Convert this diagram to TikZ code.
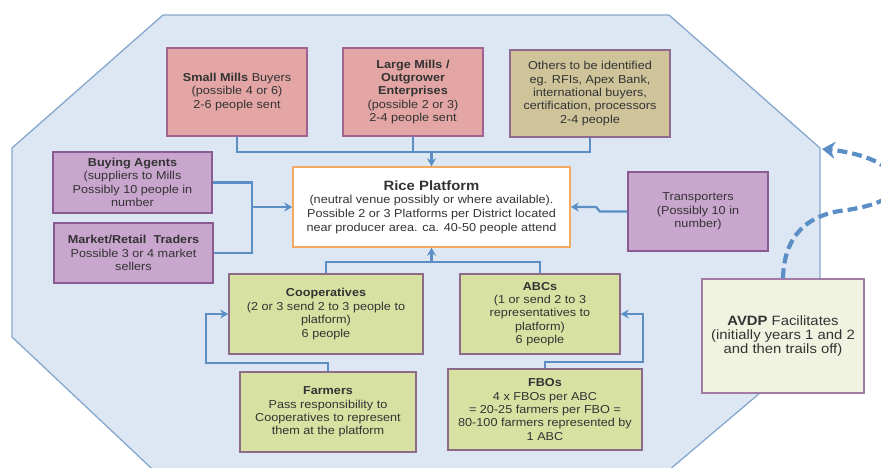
\documentclass[tikz,border=0pt]{standalone}
\usepackage{fontspec}
\setmainfont{Liberation Sans}[FakeStretch=1.1]
\usetikzlibrary{arrows.meta}

\definecolor{octfill}{HTML}{DCE7F3}
\definecolor{octline}{HTML}{86A8CC}
\definecolor{lnk}{HTML}{5B8EC5}
\definecolor{pinkf}{HTML}{E3A6A4}
\definecolor{pinkd}{HTML}{A0648E}
\definecolor{khakif}{HTML}{CEC399}
\definecolor{khakid}{HTML}{8E6A8E}
\definecolor{purpf}{HTML}{C9A6CE}
\definecolor{purpd}{HTML}{8A5A92}
\definecolor{greenf}{HTML}{D7E2A2}
\definecolor{greend}{HTML}{8E6A8A}
\definecolor{avdpf}{HTML}{F1F3E1}
\definecolor{avdpd}{HTML}{A27CA6}
\definecolor{platd}{HTML}{F2AA62}
\definecolor{txt}{HTML}{333333}

\tikzset{
  base/.style={draw, line width=1.5pt, align=center, inner sep=2pt, text=txt,
    font=\fontsize{11.5}{13.4}\selectfont},
  pinkbox/.style={base, fill=pinkf, draw=pinkd},
  khakibox/.style={base, fill=khakif, draw=khakid},
  purpbox/.style={base, fill=purpf, draw=purpd},
  greenbox/.style={base, fill=greenf, draw=greend},
  avdpbox/.style={base, fill=avdpf, draw=avdpd, font=\fontsize{13.5}{13.6}\selectfont},
  platbox/.style={base, fill=white, draw=platd},
  link/.style={draw=lnk, line width=2.3pt},
  arr/.style={link, -{Stealth[length=8pt,width=9pt]}},
  facil/.style={draw=lnk, line width=4.2pt, dash pattern=on 10pt off 5pt,
    -{Stealth[length=13pt,width=17pt]}}
}

\begin{document}
\begin{tikzpicture}[x=1pt,y=-1pt]
\useasboundingbox (0,0) rectangle (881,467);
\clip (0,0) rectangle (881,467);
\fill[white] (0,0) rectangle (881,467);

% octagonal backdrop
\draw[fill=octfill, draw=octline, line width=1.3pt]
  (163,15) -- (669,15) -- (820,148) -- (820,342) -- (655,482)
  -- (166,482) -- (12,337) -- (12,148) -- cycle;

% boxes
\node[pinkbox, minimum width=140pt, minimum height=88pt] (sm) at (237,92)
  {\textbf{Small Mills} Buyers\\(possible 4 or 6)\\2-6 people sent};
\node[pinkbox, minimum width=140pt, minimum height=88pt] (lm) at (413,92)
  {\textbf{Large Mills /}\\\textbf{Outgrower}\\\textbf{Enterprises}\\(possible 2 or 3)\\2-4 people sent};
\node[khakibox, minimum width=160pt, minimum height=87pt] (oth) at (590,93.5)
  {Others to be identified\\eg. RFIs, Apex Bank,\\international buyers,\\certification, processors\\2-4 people};
\node[purpbox, minimum width=159pt, minimum height=61pt] (ba) at (132.5,182.5)
  {\textbf{Buying Agents}\\(suppliers to Mills\\Possibly 10 people in\\number};
\node[purpbox, minimum width=159pt, minimum height=60pt] (mr) at (133.5,253)
  {\textbf{Market/Retail\ \ Traders}\\Possible 3 or 4 market\\sellers};
\node[platbox, minimum width=277pt, minimum height=80pt] (rp) at (431.5,207)
  {{\fontsize{13.5}{17}\selectfont\bfseries Rice Platform}\\(neutral venue possibly or where available).\\[1pt]Possible 2 or 3 Platforms per District located\\near producer area. ca. 40-50 people attend};
\node[purpbox, minimum width=140pt, minimum height=79pt] (tr) at (698,211.5)
  {Transporters\\(Possibly 10 in\\number)};
\node[greenbox, minimum width=194pt, minimum height=80pt] (coop) at (326,314)
  {\textbf{Cooperatives}\\(2 or 3 send 2 to 3 people to\\platform)\\6 people};
\node[greenbox, minimum width=160pt, minimum height=80pt] (abc) at (540,314)
  {\textbf{ABCs}\\(1 or send 2 to 3\\representatives to\\platform)\\6 people};
\node[greenbox, minimum width=176pt, minimum height=80pt] (farm) at (328,412)
  {\textbf{Farmers}\\Pass responsibility to\\Cooperatives to represent\\them at the platform};
\node[greenbox, minimum width=194pt, minimum height=81pt] (fbo) at (545,409.5)
  {\textbf{FBOs}\\4 x FBOs per ABC\\= 20-25 farmers per FBO =\\80-100 farmers represented by\\1 ABC};
\node[avdpbox, minimum width=162pt, minimum height=114pt] (avdp) at (783,336)
  {\textbf{AVDP} Facilitates\\(initially years 1 and 2\\and then trails off)};

% junction points of the connectors
\coordinate (jt) at (431.5,152);
\coordinate (jl) at (252,207);
\coordinate (jb) at (431.5,262);
\coordinate (fk) at (206,363);
\coordinate (bk) at (643,362);
\coordinate (tk) at (600,211.5);

% suppliers above the platform
\draw[link] (sm.south) |- (jt);
\draw[link] (lm.south) |- (jt);
\draw[link] (oth.south) |- (jt);
\draw[arr] (jt) -- (rp.north);

% agents and traders on the left
\draw[link] (ba.east) -| (jl);
\draw[link] (mr.east) -| (jl);
\draw[arr] (jl) -- (rp.west);

% transporters on the right
\draw[arr] (tr.west) -- (tk) -- ++(-4,-4.5) -- (rp.east);

% producer groups below
\draw[link] (coop.north) |- (jb);
\draw[link] (abc.north) |- (jb);
\draw[arr] (jb) -- (rp.south);

\draw[arr] (farm.north) |- (fk) |- (coop.west);
\draw[arr] (fbo.north) |- (bk) |- (abc.east);

% facilitation loop
\coordinate (oc) at (822,149);
\draw[facil] (avdp.north) .. controls (784,235) and (808,214) .. (847,210)
  .. controls (880,205) and (900,195) .. (895,180)
  .. controls (890,162) and (855,152) .. (oc);
\end{tikzpicture}
\end{document}
